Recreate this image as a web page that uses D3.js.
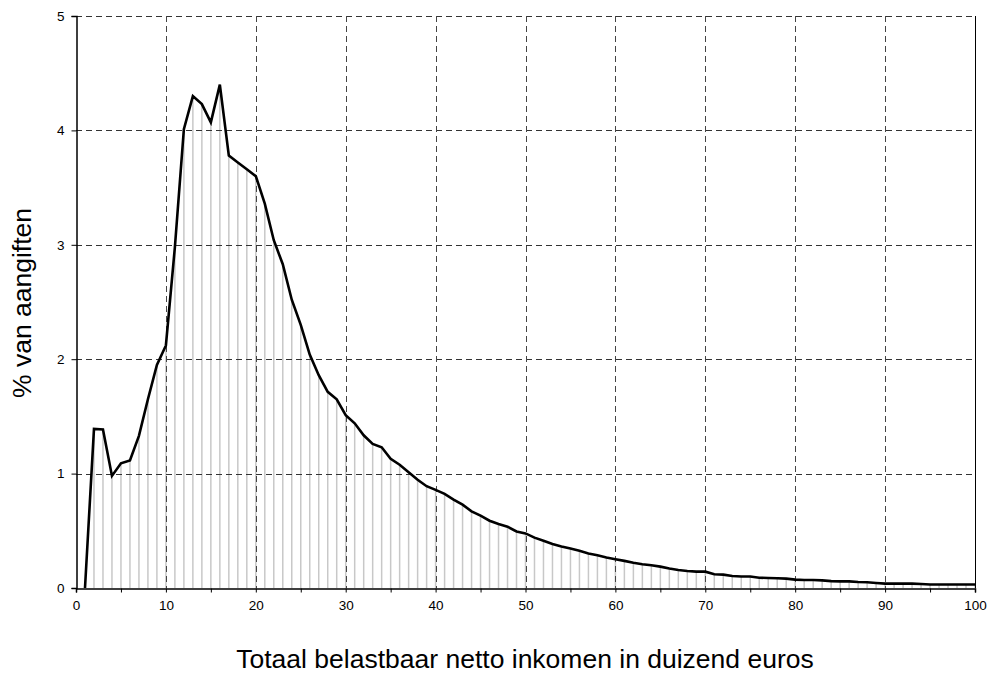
<!DOCTYPE html>
<html>
<head>
<meta charset="utf-8">
<script src="https://cdn.jsdelivr.net/npm/d3@7"></script>
<style>
  html, body { margin: 0; padding: 0; background: #fff; }
  svg { display: block; font-family: "Liberation Sans", Arial, sans-serif; }
</style>
</head>
<body>
<svg id="chart" width="994" height="698"></svg>
<script>
// Income in thousands of euros (x) and % of returns (y)
const incomes = d3.range(1, 101);
const percentages = [
  0.00, 1.39, 1.385, 0.98, 1.09, 1.115, 1.33, 1.65, 1.95, 2.12,
  2.98, 4.01, 4.30, 4.23, 4.07, 4.40, 3.78, 3.72, 3.66, 3.60,
  3.36, 3.04, 2.83, 2.52, 2.30, 2.04, 1.86, 1.715, 1.65, 1.51,
  1.44, 1.335, 1.26, 1.23, 1.13, 1.077, 1.012, 0.946, 0.89, 0.858,
  0.823, 0.773, 0.729, 0.67, 0.632, 0.588, 0.559, 0.536, 0.494, 0.477,
  0.44, 0.413, 0.384, 0.363, 0.345, 0.325, 0.301, 0.287, 0.266, 0.252,
  0.237, 0.22, 0.208, 0.199, 0.187, 0.17, 0.158, 0.149, 0.143, 0.143,
  0.12, 0.117, 0.105, 0.10, 0.10, 0.09, 0.087, 0.085, 0.082, 0.073,
  0.07, 0.07, 0.067, 0.06, 0.058, 0.058, 0.052, 0.05, 0.044, 0.038,
  0.038, 0.038, 0.038, 0.035, 0.03, 0.03, 0.03, 0.03, 0.03, 0.03
];
const xTicks = d3.range(0, 101, 10);
const xMinorTicks = d3.range(0, 101, 5);
const yTicks = [0, 1, 2, 3, 4, 5];
const xTitle = "Totaal belastbaar netto inkomen in duizend euros";
const yTitle = "% van aangiften";

const data = incomes.map((d, i) => ({x: d, y: percentages[i]}));

const svg = d3.select("#chart");
const L = 76, R = 975, T = 16, B = 588;
const x = d3.scaleLinear().domain([0, 100]).range([L, R]);
const y = d3.scaleLinear().domain([0, 5]).range([B, T]);

// drop lines
svg.append("g").selectAll("line").data(data).join("line")
  .attr("x1", d => x(d.x)).attr("x2", d => x(d.x))
  .attr("y1", d => y(d.y)).attr("y2", y(0))
  .attr("stroke", "#c8c8c8").attr("stroke-width", 1.5);

// gridlines
const grid = svg.append("g");
grid.selectAll("line.h").data(yTicks.filter(v => v > 0)).join("line")
  .attr("class", "h")
  .attr("x1", L).attr("x2", R)
  .attr("y1", d => Math.round(y(d)) + 0.5).attr("y2", d => Math.round(y(d)) + 0.5)
  .attr("stroke", "#333").attr("stroke-width", 1).attr("stroke-dasharray", "6,4");
grid.selectAll("line.v").data(xTicks.filter(v => v > 0 && v < 100)).join("line")
  .attr("class", "v")
  .attr("x1", d => Math.round(x(d)) + 0.5).attr("x2", d => Math.round(x(d)) + 0.5)
  .attr("y1", T).attr("y2", B)
  .attr("stroke", "#444").attr("stroke-width", 1).attr("stroke-dasharray", "6,4");

// right border
svg.append("line").attr("x1", R + 0.5).attr("x2", R + 0.5).attr("y1", T).attr("y2", B)
  .attr("stroke", "#000").attr("stroke-width", 1);

// series line
svg.append("path").datum(data)
  .attr("d", d3.line().x(d => x(d.x)).y(d => y(d.y)))
  .attr("fill", "none").attr("stroke", "#000").attr("stroke-width", 2.6)
  .attr("stroke-linejoin", "miter");

// axes
const xAxis = d3.axisBottom(x).tickValues(xMinorTicks).tickSize(4)
  .tickFormat(d => (d % 10 === 0 ? d : ""));
const gx = svg.append("g").attr("transform", `translate(0,${B + 0.5})`).call(xAxis);
gx.select(".domain").attr("stroke", "#000").attr("stroke-width", 1.5);
gx.selectAll(".tick line").attr("stroke", "#000");
gx.selectAll(".tick text").attr("font-size", 13.5).attr("dy", "1.05em")
  .attr("font-family", "Liberation Sans, Arial, sans-serif").attr("fill", "#000");

const yAxis = d3.axisLeft(y).tickValues(yTicks).tickSize(5).tickFormat(d3.format("d"));
const gy = svg.append("g").attr("transform", `translate(${L + 0.5},0)`).call(yAxis);
gy.select(".domain").attr("stroke", "#000").attr("stroke-width", 1.5);
gy.selectAll(".tick line").attr("stroke", "#000");
gy.selectAll(".tick text").attr("font-size", 13.5).attr("x", -12)
  .attr("font-family", "Liberation Sans, Arial, sans-serif").attr("fill", "#000");

// titles
svg.append("text").attr("x", 525).attr("y", 668).attr("text-anchor", "middle")
  .attr("font-size", 26.5).attr("fill", "#000").text(xTitle);
svg.append("text").attr("transform", `translate(31,303) rotate(-90)`)
  .attr("text-anchor", "middle").attr("font-size", 26.5).attr("fill", "#000").text(yTitle);
</script>
</body>
</html>
